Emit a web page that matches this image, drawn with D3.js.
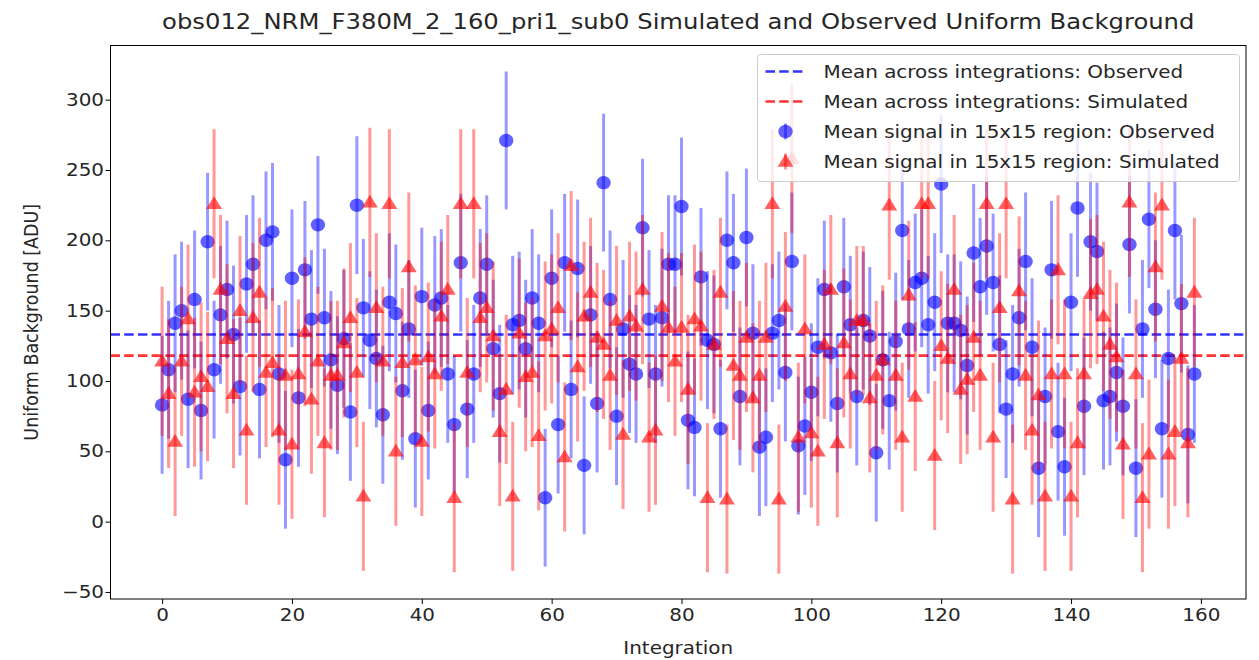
<!DOCTYPE html>
<html>
<head>
<meta charset="utf-8">
<script src="https://cdn.jsdelivr.net/npm/d3@7"></script>
<style>
  body { margin: 0; background: #fff; }
  text { font-family: "DejaVu Sans", sans-serif; fill: #262626; }
</style>
</head>
<body>
<div id="chart"></div>
<script>
// values
const titleText = 'obs012_NRM_F380M_2_160_pri1_sub0 Simulated and Observed Uniform Background';

const observed = [
  83, 108, 141, 150, 87, 158, 79, 199, 108, 147,
  165, 133, 96, 169, 183, 94, 200, 206, 105, 44,
  173, 88, 179, 144, 211, 145, 115, 97, 130, 78,
  225, 152, 129, 116, 76, 156, 148, 93, 137, 59,
  160, 79, 154, 159, 105, 69, 184, 80, 105, 159,
  183, 123, 91, 271, 140, 143, 123, 159, 141, 17,
  173, 69, 184, 94, 180, 40, 147, 84, 241, 158,
  75, 137, 112, 105, 209, 144, 105, 145, 183, 183,
  224, 72, 67, 174, 129, 126, 66, 200, 184, 89,
  202, 134, 53, 60, 134, 143, 106, 185, 54, 68,
  92, 124, 165, 120, 84, 167, 140, 89, 143, 132,
  49, 115, 86, 128, 207, 137, 170, 173, 140, 156,
  240, 141, 141, 136, 111, 191, 167, 196, 170, 126,
  80, 105, 145, 185, 124, 38, 89, 179, 64, 39,
  156, 223, 82, 199, 192, 86, 89, 106, 82, 197,
  38, 137, 215, 151, 66, 116, 207, 155, 62, 105
];

const simulated = [
  114, 91, 57, 114, 144, 92, 103, 96, 226, 165,
  130, 91, 150, 65, 145, 163, 106, 113, 65, 104,
  55, 105, 135, 87, 114, 56, 104, 104, 127, 145,
  106, 18, 227, 152, 114, 226, 50, 113, 181, 115,
  57, 117, 105, 146, 165, 17, 226, 106, 226, 145,
  152, 132, 64, 94, 18, 134, 103, 106, 61, 132,
  137, 152, 46, 182, 110, 146, 163, 131, 126, 104,
  143, 62, 146, 139, 165, 60, 65, 153, 138, 114,
  138, 94, 144, 139, 17, 126, 163, 16, 111, 104,
  131, 88, 104, 131, 226, 16, 153, 258, 60, 137,
  63, 50, 126, 165, 56, 127, 105, 143, 143, 88,
  104, 115, 225, 104, 60, 161, 89, 226, 226, 47,
  125, 116, 165, 94, 101, 131, 104, 226, 60, 152,
  226, 16, 164, 104, 65, 90, 18, 105, 179, 105,
  18, 56, 105, 162, 165, 146, 126, 117, 55, 227,
  105, 17, 48, 181, 225, 48, 64, 116, 56, 163
];

// error bar half-lengths and the two mean levels
const observedErr = 49;
const simulatedErr = 53;
const observedMean = 133;
const simulatedMean = 118;

const xTicks = [0, 20, 40, 60, 80, 100, 120, 140, 160];
const yTicks = [-50, 0, 50, 100, 150, 200, 250, 300];

const legendLabels = [
  'Mean across integrations: Observed',
  'Mean across integrations: Simulated',
  'Mean signal in 15x15 region: Observed',
  'Mean signal in 15x15 region: Simulated'
];

let margin = { top: 45.5, left: 110.5, right: 13, bottom: 61 },
  fullWidth = 1259,
  fullHeight = 660,
  width = fullWidth - margin.left - margin.right,
  height = fullHeight - margin.top - margin.bottom;

const blue = '#0000ff', red = '#ff0000';
// the reference figure is slightly stretched sideways, text included
const stretch = 1.14;
const fontSize = 17.5;

let svg = d3.select('#chart')
  .append('svg')
    .attr('width', fullWidth)
    .attr('height', fullHeight);

let g = svg.append('g')
    .attr('transform', 'translate(' + margin.left + ',' + margin.top + ')');

let xScale = d3.scaleLinear()
  .domain([-7.95, 166.95])
  .range([0, width]);

let yScale = d3.scaleLinear()
  .domain([-55, 338.5])
  .range([height, 0]);

// clip marks to the axes box
g.append('clipPath').attr('id', 'plotClip')
  .append('rect').attr('width', width).attr('height', height);

let plot = g.append('g').attr('clip-path', 'url(#plotClip)');

// mean lines
[[observedMean, blue], [simulatedMean, red]].forEach(([m, c]) => {
  plot.append('line')
    .attr('x1', 0).attr('x2', width)
    .attr('y1', yScale(m)).attr('y2', yScale(m))
    .attr('stroke', c)
    .attr('stroke-width', 2.6)
    .attr('stroke-dasharray', '9.5,4.2')
    .attr('opacity', 0.8);
});

const triangle = d3.symbol().type(d3.symbolTriangle).size(95);

function drawSeries(values, err, color, isTriangle) {
  let s = plot.append('g');
  s.selectAll('.bar')
    .data(values)
    .enter().append('line')
      .attr('class', 'bar')
      .attr('x1', (d, i) => xScale(i))
      .attr('x2', (d, i) => xScale(i))
      .attr('y1', d => yScale(d - err))
      .attr('y2', d => yScale(d + err))
      .attr('stroke', color)
      .attr('stroke-width', 3)
      .attr('opacity', 0.4);

  if (isTriangle) {
    s.selectAll('.pt')
      .data(values)
      .enter().append('path')
        .attr('class', 'pt')
        .attr('d', triangle)
        .attr('transform', (d, i) => 'translate(' + xScale(i) + ',' + (yScale(d) + 1) + ') scale(1.08,1)')
        .attr('fill', color)
        .attr('opacity', 0.62);
  } else {
    s.selectAll('.pt')
      .data(values)
      .enter().append('ellipse')
        .attr('class', 'pt')
        .attr('cx', (d, i) => xScale(i))
        .attr('cy', d => yScale(d))
        .attr('rx', 7.2)
        .attr('ry', 6.7)
        .attr('fill', color)
        .attr('opacity', 0.62);
  }
}

drawSeries(observed, observedErr, blue, false);
drawSeries(simulated, simulatedErr, red, true);

// axes
let xAxis = g.append('g')
    .attr('transform', 'translate(0,' + height + ')')
    .call(d3.axisBottom(xScale).tickValues(xTicks).tickSize(5).tickPadding(5));

let yAxis = g.append('g')
    .call(d3.axisLeft(yScale).tickValues(yTicks).tickSize(5)
      .tickFormat(d => d < 0 ? '\u2212' + Math.abs(d) : d));

[xAxis, yAxis].forEach(a => {
  a.select('.domain').remove();
  a.selectAll('line').attr('stroke', '#000').attr('stroke-width', 1);
  a.selectAll('text')
    .attr('font-size', fontSize)
    .style('font-family', '"DejaVu Sans", sans-serif')
    .attr('fill', '#262626')
    .attr('transform', 'scale(' + stretch + ',1)');
});
yAxis.selectAll('text').attr('x', -6.5 / stretch);

g.append('rect')
  .attr('width', width).attr('height', height)
  .attr('fill', 'none')
  .attr('stroke', '#000')
  .attr('stroke-width', 1);

// labels
svg.append('text')
  .attr('transform', 'translate(' + (margin.left + width / 2) + ',29) scale(' + stretch + ',1)')
  .attr('text-anchor', 'middle')
  .attr('font-size', 21.3)
  .text(titleText);

svg.append('text')
  .attr('transform', 'translate(' + (margin.left + width / 2) + ',654) scale(' + stretch + ',1)')
  .attr('text-anchor', 'middle')
  .attr('font-size', fontSize)
  .text('Integration');

svg.append('text')
  .attr('transform', 'translate(38,' + (margin.top + height / 2) + ') scale(' + stretch + ',1) rotate(-90)')
  .attr('text-anchor', 'middle')
  .attr('font-size', fontSize)
  .text('Uniform Background [ADU]');

// legend
let legend = svg.append('g').attr('transform', 'translate(757.5,54.5)');

legend.append('rect')
  .attr('width', 482).attr('height', 127)
  .attr('rx', 3)
  .attr('fill', '#fff').attr('fill-opacity', 0.8)
  .attr('stroke', '#cccccc').attr('stroke-width', 1);

legendLabels.forEach((label, i) => {
  let row = legend.append('g').attr('transform', 'translate(0,' + (17 + i * 30) + ')');
  let c = (i % 2 === 0) ? blue : red;
  if (i < 2) {
    row.append('line')
      .attr('x1', 8).attr('x2', 48)
      .attr('stroke', c).attr('stroke-width', 2.6)
      .attr('stroke-dasharray', '9.5,4.2')
      .attr('opacity', 0.8);
  } else {
    row.append('line')
      .attr('x1', 28).attr('x2', 28).attr('y1', -8).attr('y2', 8)
      .attr('stroke', c).attr('stroke-width', 3).attr('opacity', 0.4);
    if (i === 2) {
      row.append('ellipse').attr('cx', 28).attr('rx', 7.2).attr('ry', 6.7)
        .attr('fill', c).attr('opacity', 0.62);
    } else {
      row.append('path').attr('d', triangle).attr('transform', 'translate(28,1) scale(1.08,1)')
        .attr('fill', c).attr('opacity', 0.62);
    }
  }
  row.append('text')
    .attr('transform', 'translate(66,0) scale(' + stretch + ',1)')
    .attr('dy', '0.35em')
    .attr('font-size', fontSize)
    .text(label);
});
</script>
</body>
</html>
